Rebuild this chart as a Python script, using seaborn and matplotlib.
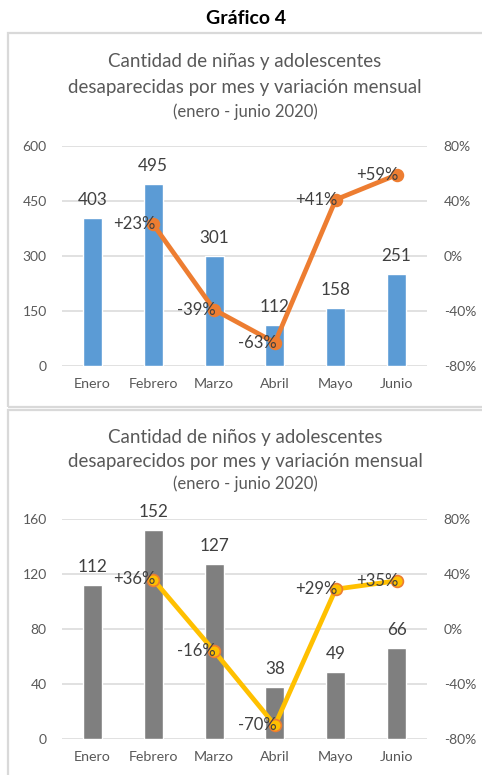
import matplotlib
matplotlib.use("Agg")
import matplotlib.pyplot as plt
import seaborn as sns
import pandas as pd
import numpy as np
from matplotlib.patches import Rectangle

months = ["Enero", "Febrero", "Marzo", "Abril", "Mayo", "Junio"]
girls = [403, 495, 301, 112, 158, 251]
girls_pct = [np.nan, 23, -39, -63, 41, 59]
boys = [112, 152, 127, 38, 49, 66]
boys_pct = [np.nan, 36, -16, -70, 29, 35]

left_ticks_top = [0, 150, 300, 450, 600]
left_ticks_bot = [0, 40, 80, 120, 160]
pct_ticks = [-80, -40, 0, 40, 80]

sns.set_theme(style="white")
plt.rcParams["font.family"] = ["Lato", "DejaVu Sans"]

W, H = 482, 775
fig = plt.figure(figsize=(W / 100, H / 100), dpi=100)

TXT = "#595959"
LBL = "#404040"
GRID = "#D9D9D9"

def px_rect(x0, y0, x1, y1):
    return [x0 / W, 1 - y1 / H, (x1 - x0) / W, (y1 - y0) / H]

# panel boxes
for (x0, y0, x1, y1) in [(8, 33, 492, 407), (8, 410, 492, 790)]:
    fig.patches.append(Rectangle((x0 / W, 1 - y1 / H), (x1 - x0) / W, (y1 - y0) / H,
                                 transform=fig.transFigure, fill=False,
                                 edgecolor=GRID, linewidth=1.6))

fig.text(246 / W, 1 - 18 / H, "Gráfico 4", ha="center", va="center",
         fontsize=14, fontweight="bold", color="black")


def panel(rect, vals, pct, bar_color, line_color, mface, medge, ticks, ymax, titles, title_y):
    ax = fig.add_axes(rect)
    df = pd.DataFrame({"mes": months, "v": vals})
    sns.barplot(data=df, x="mes", y="v", color=bar_color, width=0.31,
                saturation=1, ax=ax, zorder=2)
    ax.set_xlim(-0.5, 5.5)
    ax.set_ylim(0, ymax)
    ax.set_yticks(ticks)
    ax.set_xlabel("")
    ax.set_ylabel("")
    ax.grid(axis="y", color=GRID, linewidth=1.1, zorder=0)
    ax.set_axisbelow(True)
    for s in ax.spines.values():
        s.set_visible(False)
    ax.tick_params(axis="y", length=0, pad=11, labelsize=10, labelcolor=TXT)
    ax.tick_params(axis="x", length=0, pad=8.5, labelsize=10.3, labelcolor=TXT)
    for i, v in enumerate(vals):
        ax.annotate(str(v), (i, v), xytext=(0, 18), textcoords="offset pixels",
                    ha="center", va="center", fontsize=12.3, color=LBL)

    ax2 = ax.twinx()
    ld = pd.DataFrame({"x": list(range(len(months))), "p": pct}).dropna()
    sns.lineplot(data=ld, x="x", y="p", ax=ax2, color=line_color, linewidth=3.4,
                 marker="o", markersize=8.5, markerfacecolor=mface,
                 markeredgecolor=medge, markeredgewidth=1.2, zorder=3)
    ax2.set_ylim(-80, 80)
    ax2.set_yticks(pct_ticks)
    ax2.set_yticklabels([f"{t}%" for t in pct_ticks])
    ax2.set_xlim(-0.5, 5.5)
    ax2.set_ylabel("")
    ax2.set_xlabel("")
    ax2.grid(False)
    for s in ax2.spines.values():
        s.set_visible(False)
    ax2.tick_params(axis="y", length=0, pad=12, labelsize=10, labelcolor=TXT)
    for x, p in zip(ld["x"], ld["p"]):
        ax2.annotate(f"{int(p):+d}%", (x, p), xytext=(2, 0), textcoords="offset pixels",
                     ha="right", va="center", fontsize=12, color=LBL, zorder=5)

    for (t, y, fs) in zip(titles, title_y, [13.5, 13.5, 12]):
        fig.text(245 / W, 1 - y / H, t, ha="center", va="center", fontsize=fs, color=TXT)


panel(px_rect(62, 146, 427, 366), girls, girls_pct, "#5B9BD5", "#ED7D31",
      "#ED7D31", "#ED7D31", left_ticks_top, 600,
      ["Cantidad de niñas y adolescentes",
       "desaparecidas por mes y variación mensual",
       "(enero - junio 2020)"], [62, 88, 112])

panel(px_rect(62, 519, 427, 739), boys, boys_pct, "#7F7F7F", "#FFC000",
      "#FFC000", "#ED7D31", left_ticks_bot, 160,
      ["Cantidad de niños y adolescentes",
       "desaparecidos por mes y variación mensual",
       "(enero - junio 2020)"], [437, 462, 484])

fig.savefig("out.png", dpi=100, facecolor="white")
